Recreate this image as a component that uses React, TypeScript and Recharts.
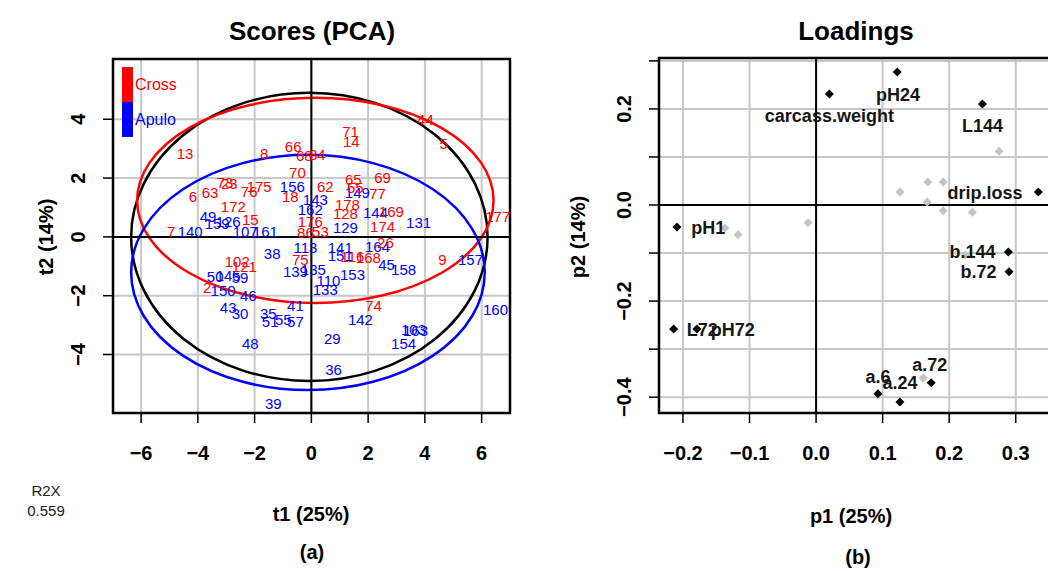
import React from "react"
import {
  ScatterChart,
  Scatter,
  XAxis,
  YAxis,
  CartesianGrid,
  ReferenceLine,
  ReferenceArea,
} from "recharts"

const FONT = '"Liberation Sans", Arial, sans-serif'

// ---- Scores (PCA): observation labels with t1 / t2 ----
const crossLabels = ["13", "8", "66", "68", "84", "71", "14", "44", "5", "65", "55", "69", "77", "62", "178", "128", "169", "174", "177", "176", "86", "53", "6", "63", "73", "23", "175", "76", "70", "18", "172", "15", "7", "75", "168", "116", "26", "9", "74", "2", "102", "121"]
const crossT1 = [-4.45, -1.66, -0.64, -0.25, 0.21, 1.38, 1.41, 4.02, 4.66, 1.48, 1.55, 2.51, 2.33, 0.49, 1.27, 1.2, 2.82, 2.51, 6.57, -0.04, -0.21, 0.32, -4.17, -3.57, -3.04, -2.89, -1.84, -2.19, -0.49, -0.74, -2.75, -2.15, -4.94, -0.39, 2.01, 1.45, 2.61, 4.62, 2.19, -3.67, -2.61, -2.36]
const crossT2 = [2.82, 2.82, 3.06, 2.76, 2.79, 3.57, 3.23, 3.98, 3.16, 1.94, 1.67, 2.01, 1.46, 1.7, 1.09, 0.78, 0.85, 0.34, 0.68, 0.51, 0.14, 0.2, 1.39, 1.5, 1.84, 1.8, 1.7, 1.53, 2.18, 1.36, 1.05, 0.58, 0.2, -0.78, -0.71, -0.68, -0.2, -0.78, -2.35, -1.73, -0.85, -1.02]

const apuloLabels = ["156", "49", "159", "126", "107", "161", "140", "143", "162", "149", "129", "144", "131", "38", "113", "139", "135", "141", "151", "164", "45", "158", "153", "110", "133", "157", "160", "142", "103", "163", "154", "29", "36", "41", "35", "51", "55", "57", "48", "39", "43", "30", "46", "150", "50", "59", "145"]
const apuloT1 = [-0.67, -3.64, -3.32, -2.93, -2.33, -1.62, -4.27, 0.14, -0.04, 1.62, 1.2, 2.26, 3.78, -1.38, -0.21, -0.56, 0.07, 1.02, 1.02, 2.33, 2.65, 3.25, 1.45, 0.6, 0.49, 5.61, 6.49, 1.73, 3.6, 3.67, 3.25, 0.74, 0.78, -0.56, -1.52, -1.45, -0.99, -0.56, -2.15, -1.34, -2.93, -2.51, -2.22, -3.11, -3.39, -2.51, -2.93]
const apuloT2 = [1.7, 0.71, 0.44, 0.51, 0.2, 0.17, 0.2, 1.26, 0.92, 1.5, 0.31, 0.82, 0.48, -0.58, -0.37, -1.19, -1.12, -0.37, -0.65, -0.34, -0.95, -1.12, -1.29, -1.5, -1.8, -0.78, -2.48, -2.82, -3.16, -3.2, -3.64, -3.44, -4.52, -2.35, -2.62, -2.89, -2.82, -2.89, -3.64, -5.65, -2.41, -2.62, -2.01, -1.84, -1.36, -1.39, -1.33]

// Hotelling ellipses: all, Cross, Apulo
const ellipseColors = ["#000000", "#ff0000", "#0000ff"]
const ellipseCx = [-0.07, 0.14, -0.12]
const ellipseCy = [0, 1.24, -1.21]
const ellipseRx = [6.28, 6.28, 6.23]
const ellipseRy = [4.9, 3.49, 4.0]

const scoreXTicks = [-6, -4, -2, 0, 2, 4, 6]
const scoreYTicks = [-4, -2, 0, 2, 4]
const scoreXDomain = [-6.99, 7.0]
const scoreYDomain = [-5.99, 6.05]

// ---- Loadings ----
const loadNames = ["carcass.weight", "pH24", "L144", "drip.loss", "pH1", "L72", "pH72", "b.144", "b.72", "a.6", "a.24", "a.72"]
const loadP1 = [0.02, 0.122, 0.25, 0.334, -0.209, -0.214, -0.179, 0.289, 0.29, 0.093, 0.126, 0.173]
const loadP2 = [0.231, 0.277, 0.21, 0.027, -0.046, -0.258, -0.258, -0.098, -0.139, -0.393, -0.41, -0.37]
const loadLabelP1 = [0.02, 0.123, 0.25, 0.254, -0.162, -0.171, -0.125, 0.235, 0.244, 0.093, 0.126, 0.171]
const loadLabelP2 = [0.185, 0.229, 0.164, 0.025, -0.048, -0.26, -0.26, -0.098, -0.139, -0.358, -0.37, -0.333]

const greyP1 = [-0.137, -0.117, -0.012, 0.275, 0.168, 0.191, 0.126, 0.167, 0.191, 0.235, 0.224, 0.161]
const greyP2 = [-0.048, -0.062, -0.037, 0.112, 0.048, 0.048, 0.027, 0.006, -0.012, -0.015, -0.104, -0.36]

const loadXTicks = [-0.2, -0.1, 0, 0.1, 0.2, 0.3]
const loadYTicks = [-0.4, -0.3, -0.2, -0.1, 0, 0.1, 0.2, 0.3]
const loadYLabelled = [-0.4, -0.2, 0, 0.2]
const loadXDomain = [-0.236, 0.365]
const loadYDomain = [-0.433, 0.306]

const crossData = crossLabels.map((label, i) => ({ x: crossT1[i], y: crossT2[i], label }))
const apuloData = apuloLabels.map((label, i) => ({ x: apuloT1[i], y: apuloT2[i], label }))
const loadPoints = loadNames.map((label, i) => ({ x: loadP1[i], y: loadP2[i], label }))
const loadLabels = loadNames.map((label, i) => ({ x: loadLabelP1[i], y: loadLabelP2[i], label }))
const greyPoints = greyP1.map((x, i) => ({ x, y: greyP2[i] }))

const fmt = (v: number, digits: number) => (v < -1e-9 ? "\u2212" : "") + Math.abs(v).toFixed(digits)

function XTick(props: any) {
  const { x, y, payload, digits } = props
  return (
    <text x={x} y={y + 30} textAnchor="middle" dominantBaseline="central"
      fontSize={20} fontWeight="bold" fontFamily={FONT} fill="#000">
      {fmt(payload.value, digits)}
    </text>
  )
}

function YTick(props: any) {
  const { x, y, payload, digits, show } = props
  if (show && !show.some((s: number) => Math.abs(s - payload.value) < 1e-6)) return <g />
  const tx = x - 25
  return (
    <text x={tx} y={y} transform={`rotate(-90, ${tx}, ${y})`} textAnchor="middle"
      dominantBaseline="central" fontSize={20} fontWeight="bold" fontFamily={FONT} fill="#000">
      {fmt(payload.value, digits)}
    </text>
  )
}

const textShape = (color: string, size: number, weight: string) => (props: any) => (
  <text x={props.cx} y={props.cy} textAnchor="middle" dominantBaseline="central"
    fontSize={size} fontWeight={weight} fontFamily={FONT} fill={color}>
    {props.payload.label}
  </text>
)

const diamond = (color: string) => (props: any) => {
  const { cx, cy } = props
  const r = 4.5
  return <polygon points={`${cx},${cy - r} ${cx + r},${cy} ${cx},${cy + r} ${cx - r},${cy}`} fill={color} />
}

const ellipseShape = (color: string) => (props: any) => {
  const { x, y, width, height } = props
  return (
    <ellipse cx={x + width / 2} cy={y + height / 2} rx={Math.abs(width) / 2} ry={Math.abs(height) / 2}
      fill="none" stroke={color} strokeWidth={2.5} />
  )
}

const axisProps = {
  type: "number" as const,
  allowDataOverflow: true,
  axisLine: false,
  tickSize: 10,
  tickMargin: 0,
  interval: 0 as const,
  tickLine: { stroke: "#000", strokeWidth: 1.5 },
}

const abs = (left: number, top: number, extra: any = {}) => ({
  position: "absolute" as const,
  left,
  top,
  transform: "translate(-50%, -50%)",
  whiteSpace: "nowrap" as const,
  ...extra,
})

function ScoresPanel() {
  return (
    <ScatterChart width={520} height={571} margin={{ top: 59, right: 10, bottom: 108, left: 53 }}>
      <CartesianGrid stroke="#c8c8c8" strokeWidth={2} />
      <XAxis dataKey="x" {...axisProps} domain={scoreXDomain} ticks={scoreXTicks} height={50}
        tick={(p: any) => <XTick {...p} digits={0} />} />
      <YAxis dataKey="y" {...axisProps} domain={scoreYDomain} ticks={scoreYTicks} width={60}
        tick={(p: any) => <YTick {...p} digits={0} />} />
      <ReferenceLine x={0} stroke="#000" strokeWidth={2} />
      <ReferenceLine y={0} stroke="#000" strokeWidth={2} />
      {ellipseColors.map((c, i) => (
        <ReferenceArea key={i} x1={ellipseCx[i] - ellipseRx[i]} x2={ellipseCx[i] + ellipseRx[i]}
          y1={ellipseCy[i] - ellipseRy[i]} y2={ellipseCy[i] + ellipseRy[i]}
          ifOverflow="visible" shape={ellipseShape(c)} />
      ))}
      <Scatter name="Apulo" data={apuloData} isAnimationActive={false} shape={textShape("#0000ff", 15, "normal")} />
      <Scatter name="Cross" data={crossData} isAnimationActive={false} shape={textShape("#ff0000", 15, "normal")} />
      <ReferenceArea x1={scoreXDomain[0]} x2={scoreXDomain[1]} y1={scoreYDomain[0]} y2={scoreYDomain[1]}
        fill="none" fillOpacity={0} stroke="#000" strokeWidth={2.5} ifOverflow="visible" />
    </ScatterChart>
  )
}

function LoadingsPanel() {
  return (
    <ScatterChart width={560} height={571} margin={{ top: 58, right: 21, bottom: 108, left: 79 }}>
      <CartesianGrid stroke="#c8c8c8" strokeWidth={2} />
      <XAxis dataKey="x" {...axisProps} domain={loadXDomain} ticks={loadXTicks} height={50}
        tick={(p: any) => <XTick {...p} digits={1} />} />
      <YAxis dataKey="y" {...axisProps} domain={loadYDomain} ticks={loadYTicks} width={60}
        tick={(p: any) => <YTick {...p} digits={1} show={loadYLabelled} />} />
      <ReferenceLine x={0} stroke="#000" strokeWidth={2} />
      <ReferenceLine y={0} stroke="#000" strokeWidth={2} />
      <Scatter data={greyPoints} isAnimationActive={false} shape={diamond("#c4c4c4")} />
      <Scatter data={loadPoints} isAnimationActive={false} shape={diamond("#000")} />
      <Scatter data={loadLabels} isAnimationActive={false} shape={textShape("#161616", 18, "bold")} />
      <ReferenceArea x1={loadXDomain[0]} x2={loadXDomain[1]} y1={loadYDomain[0]} y2={loadYDomain[1]}
        fill="none" fillOpacity={0} stroke="#000" strokeWidth={2.5} ifOverflow="visible" />
    </ScatterChart>
  )
}

export default function App() {
  const bold = { fontWeight: "bold", color: "#000" }
  return (
    <div style={{ position: "fixed", left: 0, top: 0, width: 1048, height: 571, overflow: "hidden", background: "#fff", fontFamily: FONT }}>
      <div style={{ position: "absolute", left: 0, top: 0 }}>
        <ScoresPanel />
      </div>
      <div style={{ position: "absolute", left: 520, top: 0 }}>
        <LoadingsPanel />
      </div>

      {/* legend of the scores plot */}
      <div style={{ position: "absolute", left: 122, top: 67, width: 11, height: 35, background: "#ff0000" }} />
      <div style={{ position: "absolute", left: 122, top: 102, width: 11, height: 35, background: "#0000ff" }} />
      <div style={{ position: "absolute", left: 135, top: 76, fontSize: 16, color: "#ff0000" }}>Cross</div>
      <div style={{ position: "absolute", left: 135, top: 111, fontSize: 16, color: "#0000ff" }}>Apulo</div>

      <div style={abs(312, 31, { ...bold, fontSize: 26 })}>Scores (PCA)</div>
      <div style={abs(856, 31, { ...bold, fontSize: 26 })}>Loadings</div>

      <div style={abs(46, 237, { ...bold, fontSize: 20, transform: "translate(-50%, -50%) rotate(-90deg)" })}>t2 (14%)</div>
      <div style={abs(578, 237, { ...bold, fontSize: 20, transform: "translate(-50%, -50%) rotate(-90deg)" })}>p2 (14%)</div>

      <div style={abs(311, 514, { ...bold, fontSize: 20 })}>t1 (25%)</div>
      <div style={abs(851, 516, { ...bold, fontSize: 20 })}>p1 (25%)</div>

      <div style={abs(312, 552, { ...bold, fontSize: 20 })}>(a)</div>
      <div style={abs(858, 557, { ...bold, fontSize: 20 })}>(b)</div>

      <div style={abs(46, 490, { fontSize: 15, color: "#222" })}>R2X</div>
      <div style={abs(46, 510, { fontSize: 15, color: "#222" })}>0.559</div>
    </div>
  )
}
